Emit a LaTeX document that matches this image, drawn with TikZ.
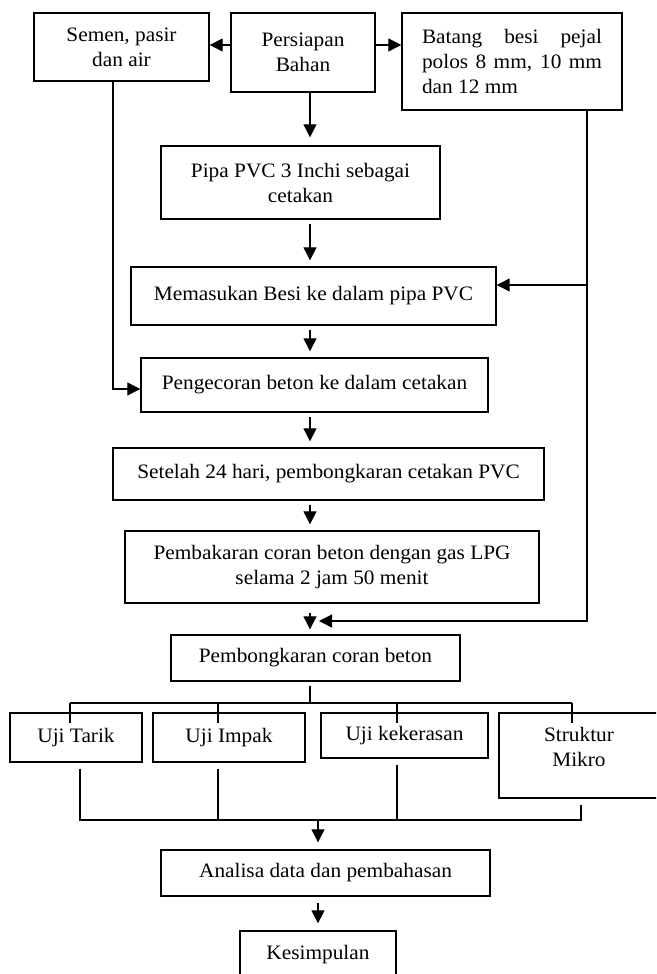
\documentclass[tikz,border=0pt]{standalone}
\usepackage{fontspec}
\setmainfont[FakeStretch=1.04]{Liberation Serif}
\usetikzlibrary{arrows.meta}
\hyphenpenalty=10000
\exhyphenpenalty=10000
\begin{document}
\begin{tikzpicture}[x=1pt,y=-1pt]
\tikzset{>={Triangle[width=13pt,length=13pt]}}
\tikzstyle{box}=[draw,line width=1.4pt,inner sep=0pt,align=center,font=\fontsize{20.5}{25}\selectfont]
\tikzstyle{arrow}=[->,line width=1.2pt]
\tikzstyle{gap}=[shorten <=4pt,shorten >=6pt]
\tikzstyle{wire}=[line width=1.2pt]

\fill[white] (0,0) rectangle (656,974);
\useasboundingbox (0,0) rectangle (656,974);
\clip (0,0) rectangle (656,974);

\node[box,minimum width=175pt,minimum height=68pt](semen) at (121.5,47){Semen, pasir\\dan air};
\node[box,minimum width=144pt,minimum height=79pt](persiapan) at (303,52.5){Persiapan\\Bahan};
\node[box,minimum width=220pt,minimum height=97pt,text width=180pt,align=justify](batang) at (512,61.5){Batang besi pejal polos 8 mm, 10 mm dan 12 mm};
\node[box,minimum width=279pt,minimum height=73pt](pipa) at (300.5,182.5){Pipa PVC 3 Inchi sebagai\\cetakan};
\node[box,minimum width=365pt,minimum height=58pt](masuk) at (313.5,296){Memasukan Besi ke dalam pipa PVC};
\node[box,minimum width=347pt,minimum height=54pt](cor) at (314.5,385){Pengecoran beton ke dalam cetakan};
\node[box,minimum width=431pt,minimum height=52pt](lepas) at (328.5,474){Setelah 24 hari, pembongkaran cetakan PVC};
\node[box,minimum width=414pt,minimum height=72pt](bakar) at (332,567){Pembakaran coran beton dengan gas LPG\\selama 2 jam 50 menit};
\node[box,minimum width=289pt,minimum height=46pt](bongkar) at (315.5,658){Pembongkaran coran beton};
\node[box,minimum width=132pt,minimum height=49pt](tarik) at (76,737.5){Uji Tarik};
\node[box,minimum width=152pt,minimum height=49pt](impak) at (229,737.5){Uji Impak};
\node[box,minimum width=167pt,minimum height=45pt](keras) at (404.5,735.5){Uji kekerasan};
\node[box,minimum width=160pt,minimum height=85pt,text depth=17pt](mikro) at (579,755.5){Struktur\\Mikro};
\node[box,minimum width=329pt,minimum height=46pt](analisa) at (325.5,873){Analisa data dan pembahasan};
\node[box,minimum width=156pt,minimum height=48pt](simpul) at (318,955){Kesimpulan};

\coordinate (axis) at (310,0);
\coordinate (axisb) at (318,0);
\coordinate (leftrail) at (113,0);
\coordinate (rightrail) at (587,0);
\coordinate (bus) at (0,703);
\coordinate (busb) at (0,820);
\coordinate (meet) at (319,621);
\coordinate (masukin) at ([yshift=11pt]masuk.east);
\coordinate (corin) at ([yshift=-4pt]cor.west);

\draw[arrow] ([yshift=7.5pt]persiapan.west) -- ([yshift=2pt]semen.east);
\draw[arrow] ([yshift=7.5pt]persiapan.east) -- ([yshift=16.5pt]batang.west);
\draw[arrow,shorten >=8pt] (persiapan.south -| axis) -- (pipa.north -| axis);
\draw[arrow,gap] (pipa.south -| axis) -- (masuk.north -| axis);
\draw[arrow,gap] (masuk.south -| axis) -- (cor.north -| axis);
\draw[arrow,gap] (cor.south -| axis) -- (lepas.north -| axis);
\draw[arrow,gap] (lepas.south -| axis) -- (bakar.north -| axis);
\draw[arrow,shorten <=9pt,shorten >=5pt] (bakar.south -| axis) -- (bongkar.north -| axis);

\draw[arrow] (batang.south -| rightrail) |- (meet);
\draw[arrow] (rightrail |- masukin) -- (masukin);
\draw[arrow] (semen.south -| leftrail) |- (corin);

\foreach \n/\dx in {tarik/-6,impak/-11,keras/-7.5,mikro/-7}
  \coordinate (\n-in) at ([xshift=\dx pt]\n.north);
\draw[wire,shorten <=4pt] (bongkar.south -| axis) -- (axis |- bus);
\draw[wire] (tarik-in |- bus) -- (mikro-in |- bus);
\foreach \n in {tarik,impak,keras,mikro}
  \draw[wire] (\n-in |- bus) -- ([yshift=-11pt]\n-in);

\foreach \n/\dx in {tarik/4,impak/-11,keras/-7.5,mikro/2}
  \coordinate (\n-out) at ([xshift=\dx pt,yshift=-6pt]\n.south);
\draw[wire] (tarik-out) |- (mikro-out |- busb) -- (mikro-out);
\draw[wire] (impak-out) -- (impak-out |- busb);
\draw[wire] (keras-out) -- (keras-out |- busb);
\draw[arrow,shorten >=7pt] (axisb |- busb) -- (analisa.north -| axisb);
\draw[arrow,shorten <=6pt,shorten >=7pt] (analisa.south -| axisb) -- (simpul.north -| axisb);
\end{tikzpicture}
\end{document}
